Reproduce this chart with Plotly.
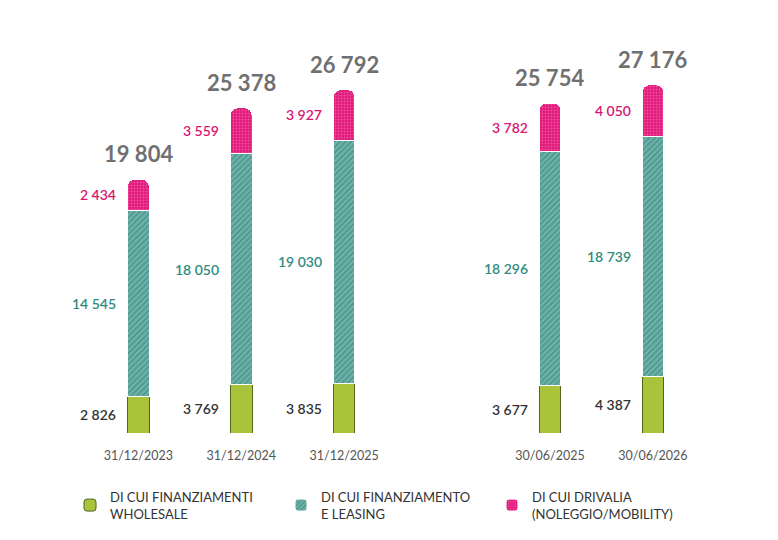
import plotly.graph_objects as go

# data
periods = ["31/12/2023", "31/12/2024", "31/12/2025", "30/06/2025", "30/06/2026"]
wholesale = [2826, 3769, 3835, 3677, 4387]
leasing = [14545, 18050, 19030, 18296, 18739]
drivalia = [2434, 3559, 3927, 3782, 4050]
totals = [19804, 25378, 26792, 25754, 27176]

names = ["DI CUI FINANZIAMENTI<br>WHOLESALE",
         "DI CUI FINANZIAMENTO<br>E LEASING",
         "DI CUI DRIVALIA<br>(NOLEGGIO/MOBILITY)"]

# blank slot to open the gap between the year-end and half-year groups
axis_order = periods[:3] + [" "] + periods[3:]

GREEN = "#a9c33b"
TEAL = "#3a9286"
PINK = "#e2177c"
FONT = "Lato, 'Open Sans', sans-serif"


def fmt(v):
    return f"{v:,}".replace(",", " ")


fig = go.Figure()
fig.add_trace(go.Bar(x=periods, y=wholesale, name=names[0], width=0.21,
                     marker=dict(color=GREEN, line=dict(color="#55651c", width=1))))
fig.add_trace(go.Bar(x=periods, y=leasing, name=names[1], width=0.21,
                     marker=dict(color=TEAL, line=dict(color="white", width=1),
                                 pattern=dict(shape="/", fgcolor="#2c7a70",
                                              bgcolor="#6fb3aa", size=4, solidity=0.45))))
fig.add_trace(go.Bar(x=periods, y=drivalia, name=names[2], width=0.21,
                     marker=dict(color=PINK, line=dict(color="white", width=1),
                                 pattern=dict(shape=".", fgcolor="#f28ab8",
                                              bgcolor=PINK, size=3, solidity=0.35))))

# segment labels on the left of each bar
for i, p in enumerate(periods):
    mids = [wholesale[i] / 2,
            wholesale[i] + leasing[i] / 2,
            wholesale[i] + leasing[i] + drivalia[i] / 2]
    vals = [wholesale[i], leasing[i], drivalia[i]]
    cols = ["#333333", "#2e8b7e", "#d8166f"]
    for m, v, c in zip(mids, vals, cols):
        fig.add_annotation(x=p, y=m, text=fmt(v), showarrow=False,
                           xanchor="right", xshift=-20,
                           font=dict(family=FONT, size=14, color=c, weight=600))
    fig.add_annotation(x=p, y=totals[i], text="<b>" + fmt(totals[i]) + "</b>",
                       showarrow=False, yanchor="bottom", yshift=10,
                       font=dict(family=FONT, size=22, color="#707070"))

fig.update_layout(
    barmode="stack",
    barcornerradius=7,
    width=778, height=540,
    margin=dict(l=40, r=40, t=40, b=107, autoexpand=False),
    paper_bgcolor="white", plot_bgcolor="white",
    font=dict(family=FONT, color="#333333"),
    showlegend=True,
    legend=dict(orientation="h", x=0.09, xref="container", xanchor="left",
                y=0.108, yref="container", yanchor="top",
                font=dict(family=FONT, size=13, color="#333333"),
                traceorder="normal", entrywidth=166, itemwidth=30),
)
fig.update_xaxes(type="category", categoryorder="array", categoryarray=axis_order,
                 range=[-0.956, 5.827],
                 showline=False, showgrid=False, ticks="", ticklabelstandoff=13,
                 tickfont=dict(family=FONT, size=12.5, color="#555555"))
fig.update_yaxes(range=[0, 30680], visible=False)

fig.write_html("out.html", config={"displayModeBar": False},
               post_script="document.body.style.margin='0';")
